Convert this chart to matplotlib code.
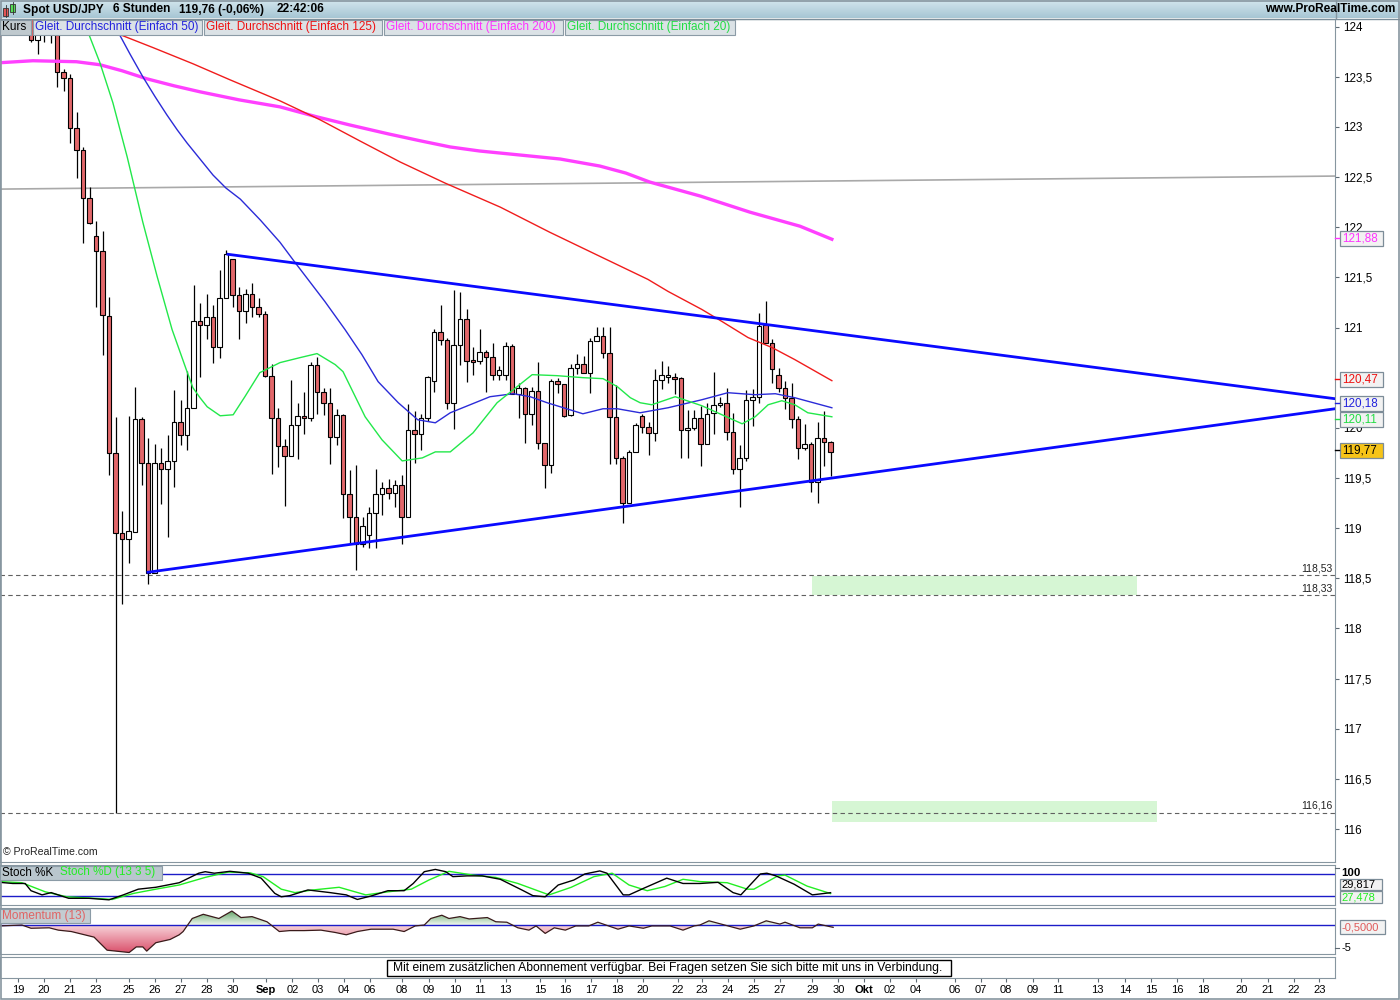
import numpy as np
import matplotlib.pyplot as plt
from matplotlib.patches import Rectangle
from matplotlib.path import Path
from matplotlib.colors import LinearSegmentedColormap

plt.rcParams['font.family'] = ['Liberation Sans', 'DejaVu Sans']

# USD/JPY 6h candles, bar 0 = first bar on screen (19 Aug)
opens = [124.20, 123.87, 124.15, 124.25, 124.20, 123.55, 123.49, 122.99, 122.77, 122.29,
         121.91, 121.76, 121.11, 119.75, 118.95, 118.89, 118.96, 120.09, 119.65, 118.55,
         119.65, 119.59, 119.67, 120.06, 119.93, 120.20, 121.06, 121.03, 121.10, 120.81,
         121.29, 121.68, 121.32, 121.16, 121.33, 121.20, 121.13, 120.52, 120.10, 119.82,
         119.72, 120.03, 120.12, 120.10, 120.63, 120.36, 120.25, 119.91, 120.13, 119.34,
         119.11, 118.84, 118.93, 119.15, 119.34, 119.40, 119.35, 119.43, 119.11, 119.98,
         119.94, 120.10, 120.47, 120.96, 120.88, 120.25, 120.83, 121.08, 120.67, 120.67,
         120.76, 120.71, 120.53, 120.53, 120.82, 120.34, 120.40, 120.14, 120.37, 119.85,
         119.63, 120.47, 120.44, 120.13, 120.60, 120.64, 120.55, 120.87, 120.92, 120.75,
         120.11, 119.70, 119.25, 119.76, 120.12, 120.01, 119.95, 120.48, 120.51, 120.51,
         120.50, 119.98, 120.00, 120.10, 119.84, 120.15, 120.23, 120.25, 119.96, 119.59,
         119.70, 120.28, 120.31, 121.03, 120.85, 120.53, 120.40, 120.30, 120.09, 119.80,
         119.84, 119.46, 119.90, 119.86]
highs = [124.30, 124.10, 124.30, 124.35, 124.30, 123.58, 123.53, 123.15, 122.80, 122.40,
         122.06, 121.96, 121.30, 120.11, 119.17, 120.12, 120.41, 120.11, 119.90, 119.84,
         119.80, 119.93, 120.38, 120.28, 120.57, 121.42, 121.24, 121.33, 121.22, 121.57,
         121.77, 121.68, 121.40, 121.38, 121.44, 121.29, 121.16, 120.64, 120.20, 119.89,
         120.48, 120.25, 120.36, 120.66, 120.71, 120.40, 120.40, 120.19, 120.14, 119.58,
         119.63, 119.11, 119.21, 119.59, 119.46, 119.49, 119.48, 119.53, 120.24, 120.17,
         120.14, 120.52, 120.99, 121.22, 120.90, 121.37, 121.35, 121.18, 120.81, 120.99,
         120.78, 120.85, 120.62, 120.86, 120.84, 120.45, 120.41, 120.41, 120.66, 119.85,
         120.49, 120.50, 120.44, 120.64, 120.74, 120.72, 120.90, 121.01, 121.01, 121.01,
         120.43, 119.72, 119.78, 120.05, 120.14, 120.06, 120.59, 120.67, 120.62, 120.55,
         120.51, 120.18, 120.18, 120.22, 120.25, 120.56, 120.31, 120.40, 120.15, 119.83,
         120.38, 120.39, 121.14, 121.26, 120.89, 120.60, 120.47, 120.45, 120.12, 120.04,
         119.86, 120.06, 120.17, 119.87]
lows = [123.85, 123.73, 123.85, 123.84, 123.40, 123.36, 122.84, 122.49, 121.84, 122.03,
        121.20, 120.73, 119.53, 116.16, 118.24, 118.65, 118.96, 119.43, 118.44, 118.55,
        119.24, 118.91, 119.41, 119.83, 119.78, 120.20, 120.51, 120.89, 120.65, 120.70,
        121.29, 121.20, 120.89, 121.05, 121.10, 121.10, 120.51, 119.54, 119.61, 119.22,
        119.72, 119.69, 119.94, 120.07, 120.14, 120.13, 119.64, 119.83, 119.10, 118.84,
        118.58, 118.81, 118.80, 118.80, 119.13, 119.29, 119.21, 118.84, 119.11, 119.65,
        119.78, 120.07, 120.36, 120.83, 120.19, 119.99, 120.63, 120.46, 120.53, 120.64,
        120.36, 120.48, 120.48, 120.48, 120.36, 120.10, 119.85, 120.03, 119.79, 119.40,
        119.55, 120.35, 120.11, 120.12, 120.54, 120.55, 120.35, 120.87, 120.70, 119.64,
        119.64, 119.05, 119.25, 119.76, 119.95, 119.73, 119.87, 120.39, 120.45, 120.34,
        119.70, 119.70, 119.98, 119.62, 119.84, 119.94, 120.21, 119.88, 119.54, 119.21,
        119.67, 120.02, 120.25, 120.99, 120.45, 120.36, 120.19, 120.00, 119.69, 119.78,
        119.36, 119.25, 119.62, 119.52]
closes = [123.87, 123.93, 124.20, 124.15, 123.55, 123.49, 122.99, 122.77, 122.29, 122.04,
          121.76, 121.12, 119.75, 118.95, 118.89, 118.97, 120.09, 119.65, 118.55, 119.65,
          119.59, 119.67, 120.06, 119.93, 120.20, 121.06, 121.03, 121.10, 120.81, 121.29,
          121.73, 121.32, 121.16, 121.33, 121.20, 121.13, 120.52, 120.10, 119.82, 119.72,
          120.03, 120.12, 120.10, 120.63, 120.36, 120.25, 119.91, 120.13, 119.34, 119.11,
          118.84, 119.02, 119.15, 119.34, 119.40, 119.35, 119.43, 119.11, 119.98, 119.94,
          120.10, 120.51, 120.96, 120.88, 120.25, 120.83, 121.08, 120.67, 120.66, 120.76,
          120.71, 120.53, 120.58, 120.82, 120.34, 120.40, 120.14, 120.37, 119.85, 119.63,
          120.47, 120.44, 120.12, 120.60, 120.64, 120.55, 120.87, 120.92, 120.75, 120.11,
          119.70, 119.25, 119.76, 120.03, 120.01, 119.95, 120.48, 120.53, 120.52, 120.49,
          119.98, 120.00, 120.10, 119.84, 120.14, 120.23, 120.25, 119.96, 119.59, 119.70,
          120.28, 120.31, 121.02, 120.85, 120.59, 120.40, 120.30, 120.09, 119.80, 119.84,
          119.46, 119.90, 119.86, 119.76]

# moving averages (bar position, price)
ma20_x = [-4.8, 5, 7.9, 8.8, 10.6, 12.6, 14.8, 17.2, 19.4, 21.7, 24, 24.9, 26, 27.1, 29.1, 31.1,
          32.9, 35.2, 38.3, 41.4, 44, 46.8, 48, 51.4, 54, 57.1, 60.2, 62.2, 64.5, 68, 71.7, 74.2,
          77.1, 80.9, 84.9, 88, 90.2, 92.2, 93.7, 95.5, 99.1, 103.2, 106.3, 109.4, 111.4, 113.4,
          115.5, 117.5, 119.5, 123.2]
ma20_v = [125.5, 124.6, 124.08, 123.94, 123.64, 123.24, 122.70, 122.05, 121.51, 120.98,
          120.56, 120.40, 120.30, 120.21, 120.12, 120.13, 120.31, 120.55, 120.65, 120.70,
          120.74, 120.63, 120.56, 120.11, 119.88, 119.67, 119.70, 119.76, 119.76, 119.95,
          120.25, 120.38, 120.53, 120.52, 120.50, 120.49, 120.41, 120.30, 120.25, 120.23,
          120.31, 120.22, 120.13, 120.04, 120.11, 120.23, 120.27, 120.23, 120.15, 120.11]
ma50_x = [-4.8, 5, 12.3, 13.2, 15.2, 17.2, 19.1, 20.9, 22.5, 24, 26, 28, 30, 32.2, 35.3, 38.3,
          40.6, 45.2, 48.3, 50.9, 53.4, 56.5, 59.5, 62.2, 64.5, 70.6, 74.2, 76.8, 79.4, 82.9,
          84.9, 88, 90.2, 93.7, 98, 103.2, 107.2, 111.4, 114.5, 117.5, 123.2]
ma50_v = [125.6, 124.8, 124.08, 123.97, 123.73, 123.50, 123.30, 123.12, 122.97, 122.84,
          122.68, 122.52, 122.39, 122.28, 122.07, 121.85, 121.65, 121.26, 120.98, 120.73,
          120.46, 120.25, 120.08, 120.05, 120.15, 120.31, 120.34, 120.31, 120.25, 120.18,
          120.14, 120.19, 120.19, 120.15, 120.20, 120.28, 120.35, 120.33, 120.34, 120.30,
          120.20]
ma125_x = [-4.8, -2.5, 4, 10, 13.7, 18.8, 24.9, 30.6, 38.3, 44.5, 50.6, 56.8, 63.7, 72.2, 79.8,
           87.5, 94.9, 98, 103.2, 106.3, 110.3, 114, 117.5, 123.2]
ma125_v = [123.90, 124.08, 124.25, 124.15, 123.92, 123.79, 123.63, 123.47, 123.26, 123.07,
           122.86, 122.65, 122.44, 122.20, 121.95, 121.71, 121.48, 121.36, 121.18, 121.06,
           120.90, 120.80, 120.68, 120.47]
ma200_x = [-4.8, 0.3, 7, 10.6, 14, 17.8, 22, 26, 32, 38.3, 44, 49, 55, 60, 64.5, 69, 75.2,
           81.4, 87.5, 91.5, 95.2, 103, 110.6, 118.3, 123.2]
ma200_v = [123.64, 123.66, 123.65, 123.62, 123.56, 123.48, 123.41, 123.35, 123.27, 123.20,
           123.10, 123.02, 122.93, 122.86, 122.80, 122.76, 122.72, 122.68, 122.61, 122.54,
           122.45, 122.31, 122.15, 122.01, 121.88]

# trend lines drawn on the chart
tri_up_x, tri_up_y = [30.3, 200.6], [121.73, 120.29]
tri_lo_x, tri_lo_y = [18.0, 200.6], [118.56, 120.19]
grey_x, grey_y = [-4.8, 200.6], [122.38, 122.51]
levels = [118.53, 118.33, 116.16]
zones = [(120.2, 170.2, 118.33, 118.52), (123.2, 173.2, 116.07, 116.28)]

# Stochastic (13 3 5)
k_x = [-4.8, -2.8, -0.9, 0, 1.7, 3.1, 5.8, 8.9, 12, 14.2, 16.5, 19.2, 22.8, 25.8, 26.8, 28.2,
       30.6, 33.4, 35.4, 37.5, 38.5, 39.8, 42.6, 46, 48.5, 50.2, 52.3, 54.9, 57.4, 58.8, 60.5,
       62.2, 63.8, 64.9, 67.1, 69.4, 72.2, 75.5, 77.2, 79.1, 81.1, 83.5, 85.2, 87.5, 88.6, 91.1,
       92, 94.2, 97.8, 100.3, 102.9, 105.7, 108, 109.2, 112.2, 113.2, 114.6, 117.4, 120.2, 123]
k_v = [57, 54, 54, 35, 24, 30, 15, 15, 11, 24, 39, 44, 56, 81, 85, 81, 86, 81, 68, 28,
       19, 22, 37, 30, 24, 12, 21, 35, 35, 54, 85, 91, 85, 72, 74, 74, 65, 37, 22, 19,
       50, 63, 79, 87, 81, 24, 24, 41, 68, 54, 54, 57, 30, 24, 79, 81, 74, 52, 24, 29.8]
d_x = [-4.8, -1.4, 2.2, 5.5, 9.7, 12.5, 15.8, 19.2, 22.8, 26.8, 30.3, 33.7, 35.7, 38.5, 40.6,
       43.4, 47.4, 51.5, 54.9, 58.5, 61.2, 64.3, 68, 71.5, 74.9, 79.7, 83.1, 86.6, 89.4, 92,
       94.8, 97.5, 100.3, 102.9, 107.1, 110.2, 111.2, 114.9, 116, 119.4, 123]
d_v = [59, 56, 32, 19, 15, 12, 28, 39, 50, 70, 84, 82, 72, 39, 30, 37, 44, 24, 32, 39,
       63, 86, 76, 70, 54, 24, 44, 72, 81, 50, 35, 46, 65, 59, 56, 39, 39, 74, 76, 47, 27.5]

# Momentum (13)
mom_x = [-4.8, -1.4, 0, 2.8, 4.2, 6.2, 9.7, 11.7, 15.1, 16.2, 17.2, 17.8, 19.2, 21.4, 22.8,
         23.4, 24.8, 26.5, 28.9, 30.9, 32.3, 34, 36.3, 38.2, 39.8, 42, 44.6, 46.8, 48.5, 50.2,
         52.3, 55.7, 57.4, 59.1, 60.5, 61.5, 63.2, 64.3, 66, 67.4, 70.2, 71.5, 73.2, 74.9, 76.6,
         77.7, 79.1, 80.5, 82.2, 83.8, 85.8, 87.2, 90.3, 92, 94.2, 95.5, 98.3, 100.3, 102, 102.9,
         104.3, 109.1, 111.2, 113.1, 115.2, 116, 118.3, 120.2, 121.1, 123.4]
mom_v = [-0.2, 0, -0.7, -0.6, -1.1, -1.4, -2.6, -5.4, -5.9, -4.7, -4.7, -5.6, -3.8, -3.1, -2.1,
         -1.4, 1.4, 2.3, 1.4, 3.0, 1.6, 1.8, 0.7, -1.4, -1.2, -1.2, -1.1, -1.6, -2.1, -1.4,
         -0.9, -0.9, -1.4, -0.2, 0, 1.4, 2.1, 1.4, 1.8, 1.3, 1.6, 0.7, 0.6, -0.6, -1.1,
         -0.2, -1.8, -0.6, -1.1, -0.2, -0.2, 0.6, -0.9, -0.2, -0.7, -0.2, -0.2, -1.1, -0.2, 0,
         0.9, -0.9, -0.2, 0.9, 0.2, 0.6, -0.6, -0.6, 0.2, -0.5]

# date axis (bar position of each label)
date_pos = [-2, 2, 6, 10, 15, 19, 23, 27, 31, 36.2, 40.2, 44.1, 48.1, 52.1, 57, 61.2, 65.2,
            69.1, 73, 78.3, 82.2, 86.2, 90.2, 94.1, 99.5, 103.2, 107.2, 111.2, 115.2, 120.2,
            124.2, 128.2, 132.1, 136.1, 142.1, 146.1, 150, 154.1, 158, 164.1, 168.3, 172.3,
            176.3, 180.3, 186.2, 190.3, 194.3, 198.2]
date_txt = ['19', '20', '21', '23', '25', '26', '27', '28', '30', 'Sep', '02', '03', '04', '06',
            '08', '09', '10', '11', '13', '15', '16', '17', '18', '20', '22', '23', '24', '25',
            '27', '29', '30', 'Okt', '02', '04', '06', '07', '08', '09', '11', '13', '14', '15',
            '16', '18', '20', '21', '22', '23']

W, H = 1400.0, 1000.0
XMIN, XMAX = -4.77, 200.6
FRAME = '#8796a0'


def rect(x0, y0, x1, y1):
    return [x0 / W, 1 - y1 / H, (x1 - x0) / W, (y1 - y0) / H]


def de(v):
    s = ('%g' % v) if v == int(v) else ('%.1f' % v)
    return s.replace('.', ',')


fig = plt.figure(figsize=(14, 10), dpi=100)
ax = fig.add_axes(rect(0, 19, 1335, 862))
ax_st = fig.add_axes(rect(0, 865, 1335, 905))
ax_mo = fig.add_axes(rect(0, 908, 1335, 954))
ax_tx = fig.add_axes(rect(0, 957, 1335, 978))

for a in (ax, ax_st, ax_mo, ax_tx):
    a.set_xlim(XMIN, XMAX)
    for s in a.spines.values():
        s.set_color(FRAME)
    a.set_xticks([])
    a.set_yticks([])

# ---- price panel ----
o = np.array(opens); h = np.array(highs); l = np.array(lows); c = np.array(closes)
xi = np.arange(len(o))
up = c >= o
ax.vlines(xi, l, h, color='black', lw=0.9, zorder=3)
body = np.maximum(np.abs(c - o), 0.012)
ax.bar(xi, body, bottom=np.minimum(o, c), width=0.72,
       color=np.where(up, 'white', '#e2676a'), edgecolor='black', lw=0.8, zorder=4)

for (x0, x1, y0, y1) in zones:
    ax.add_patch(Rectangle((x0, y0), x1 - x0, y1 - y0, fc='#d6f6d4', ec='none', zorder=1))
for lv in levels:
    ax.axhline(lv, color='#606060', lw=0.8, ls=(0, (4, 3)), zorder=2)
    ax.text(0.998, lv + 0.02, ('%.2f' % lv).replace('.', ','),
            transform=ax.get_yaxis_transform(), ha='right', va='bottom', fontsize=7.5,
            color='#222222')
ax.plot(grey_x, grey_y, color='#a9a9a9', lw=1.2, zorder=2)

ax.plot(ma200_x, ma200_v, color='#ff40ff', lw=2.4, zorder=5)
ax.plot(ma125_x, ma125_v, color='#f01c1c', lw=1.0, zorder=5)
ax.plot(ma50_x, ma50_v, color='#2b2bd8', lw=1.0, zorder=5)
ax.plot(ma20_x, ma20_v, color='#22e84a', lw=1.0, zorder=5)
ax.plot(tri_up_x, tri_up_y, color='#0a0aff', lw=2.0, zorder=6)
ax.plot(tri_lo_x, tri_lo_y, color='#0a0aff', lw=2.0, zorder=6)

ax.set_ylim(115.671, 124.076)
ax.yaxis.tick_right()
# 120,5 sits under the 120,47 value box, so it is not drawn
yt = [v for v in np.arange(116, 124.01, 0.5) if v != 120.5]
ax.set_yticks(yt)
ax.set_yticklabels([de(v) for v in yt])
ax.tick_params(axis='y', direction='out', length=3, color='#5d6a73', labelsize=8.4, pad=3)
ax.text(0.002, 0.006, '© ProRealTime.com', transform=ax.transAxes, fontsize=7.6,
        ha='left', va='bottom', color='#222222')

# ---- stochastic ----
ax_st.set_ylim(-2.6, 102.6)
ax_st.axhline(80, color='#1c1cc8', lw=1.0)
ax_st.axhline(20, color='#1c1cc8', lw=1.0)
ax_st.plot(d_x, d_v, color='#22ee22', lw=1.0)
ax_st.plot(k_x, k_v, color='black', lw=1.0)

# ---- momentum ----
ax_mo.set_ylim(-6.22, 3.65)
mx = np.array(mom_x); mv = np.array(mom_v)


def grad_fill(a, where, c0, c1, y0, y1):
    coll = a.fill_between(mx, mv, 0, where=where, interpolate=True, fc='none', ec='none')
    paths = coll.get_paths()
    if not paths:
        return
    clip = Path.make_compound_path(*paths)
    cm = LinearSegmentedColormap.from_list('g', [c0, c1])
    im = a.imshow(np.linspace(0, 1, 256).reshape(-1, 1), extent=(XMIN, XMAX, y0, y1),
                  origin='lower', aspect='auto', cmap=cm, zorder=1)
    im.set_clip_path(clip, a.transData)


grad_fill(ax_mo, mv <= 0, '#d94a66', '#f7d3d9', -6.22, 0)
grad_fill(ax_mo, mv >= 0, '#f0f8f0', '#3f8f45', 0, 3.65)
ax_mo.axhline(0, color='#1c1cc8', lw=1.0, zorder=2)
ax_mo.plot(mx, mv, color='#3a1a1a', lw=0.9, zorder=3)
ax_mo.set_xlim(XMIN, XMAX)
ax_mo.set_ylim(-6.22, 3.65)

# ---- date axis ----
ax_tx.set_ylim(0, 1)
ax_tx.set_xticks(date_pos)
ax_tx.set_xticklabels(date_txt)
ax_tx.tick_params(axis='x', direction='out', length=3, color='#5d6a73', labelsize=8, pad=2)
for t in ax_tx.get_xticklabels():
    if t.get_text() in ('Sep', 'Okt'):
        t.set_fontweight('bold')

# ---- overlay: header, legend boxes, value boxes ----
ov = fig.add_axes([0, 0, 1, 1], zorder=10)
hdr = LinearSegmentedColormap.from_list('hdr', ['#d2e5ed', '#a7c6d4'])
ov.imshow(np.linspace(0, 1, 32).reshape(-1, 1), extent=(0, W, 18, 0), cmap=hdr, aspect='auto')
ov.set_xlim(0, W)
ov.set_ylim(H, 0)
ov.axis('off')
ov.plot([0, W], [18.5, 18.5], color='#7d8f9b', lw=1)
ov.add_patch(Rectangle((0.5, 0.5), W - 1.5, H - 1.5, fc='none', ec=FRAME, lw=1.2))
ov.plot([1335.5, 1335.5], [0, 18], color=FRAME, lw=1)

# header icon
ov.add_patch(Rectangle((3, 8), 5, 8, fc='#e25555', ec='#333333', lw=0.6))
ov.plot([5.5, 5.5], [5, 17], color='#333333', lw=0.6)
ov.add_patch(Rectangle((10, 4), 5, 8, fc='#55dd55', ec='#333333', lw=0.6))
ov.plot([12.5, 12.5], [2, 14], color='#333333', lw=0.6)

for x, s in [(23, 'Spot USD/JPY'), (113, '6 Stunden'), (179, '119,76 (-0,06%)'),
             (277, '22:42:06')]:
    ov.text(x, 9.5, s, fontsize=8.6, fontweight='bold', ha='left', va='center')
ov.text(1395, 9.5, 'www.ProRealTime.com', fontsize=8.6, fontweight='bold', ha='right',
        va='center')

legend = [(0, 31, 'Kurs', 'black', '#bfc9ce'),
          (33, 202, 'Gleit. Durchschnitt (Einfach 50)', '#2222dd', '#dbe2e6'),
          (204, 382, 'Gleit. Durchschnitt (Einfach 125)', '#ee1111', '#dbe2e6'),
          (384, 563, 'Gleit. Durchschnitt (Einfach 200)', '#ff33ff', '#dbe2e6'),
          (565, 735, 'Gleit. Durchschnitt (Einfach 20)', '#22dd44', '#dbe2e6')]
for x0, x1, s, tc, fc in legend:
    ov.add_patch(Rectangle((x0, 19.5), x1 - x0, 15, fc=fc, ec='#8b9ba6', lw=0.8))
    ov.text(x0 + 2, 27.3, s, color=tc, fontsize=8.5, ha='left', va='center')

# price value boxes on the right axis
vboxes = [('121,88', 238, '#ff33ff', '#f2f2f2'), ('120,47', 379, '#ee1111', '#f2f2f2'),
          ('120,18', 403, '#2222dd', '#f2f2f2'), ('120,11', 419, '#22dd44', '#f2f2f2'),
          ('119,77', 450, 'black', '#f6c418')]
for s, yc, tc, fc in vboxes:
    ov.plot([1335, 1339], [yc, yc], color=tc, lw=1)
    ov.add_patch(Rectangle((1339.5, yc - 7.5), 43, 15, fc=fc, ec='#7c8c98', lw=0.9))
    ov.text(1342, yc + 0.5, s, color=tc, fontsize=8.4, ha='left', va='center')

# indicator panel labels
ov.add_patch(Rectangle((0, 865.5), 162, 14, fc='#b9c6cd', ec='#8b9ba6', lw=0.8))
ov.text(2, 872.5, 'Stoch %K', fontsize=8.4, ha='left', va='center', color='black')
ov.text(60, 872.5, 'Stoch %D (13 3 5)', fontsize=8.4, ha='left', va='center', color='#22ee22')
ov.add_patch(Rectangle((0, 908.5), 90, 14, fc='#c3cdd2', ec='#8b9ba6', lw=0.8))
ov.text(2, 915.5, 'Momentum (13)', fontsize=8.5, ha='left', va='center', color='#e06464')

ov.text(1341, 872.5, '100', fontsize=8.2, fontweight='bold', ha='left', va='center')
ov.plot([1335, 1339], [868, 868], color='#5d6a73', lw=0.8)
ov.add_patch(Rectangle((1339.5, 879), 42, 11, fc='#f2f2f2', ec='#7c8c98', lw=0.9))
ov.text(1341, 884.7, '29,817', fontsize=8, ha='left', va='center', color='black')
ov.add_patch(Rectangle((1339.5, 891), 42, 12, fc='#f2f2f2', ec='#7c8c98', lw=0.9))
ov.text(1341, 897.2, '27,478', fontsize=8, ha='left', va='center', color='#22ee22')
ov.add_patch(Rectangle((1339.5, 920), 45, 14, fc='#f2f2f2', ec='#7c8c98', lw=0.9))
ov.text(1341, 927.5, '-0,5000', fontsize=8, ha='left', va='center', color='#e05a5a')
ov.plot([1335, 1339], [948, 948], color='#5d6a73', lw=0.8)
ov.text(1341, 948, '-5', fontsize=8, ha='left', va='center')

# notice box
ov.add_patch(Rectangle((386.5, 959.5), 564, 16, fc='white', ec='black', lw=1))
ov.text(668, 967.8, 'Mit einem zusätzlichen Abonnement verfügbar. Bei Fragen setzen Sie sich '
        'bitte mit uns in Verbindung.', fontsize=8.7, ha='center', va='center')

fig.savefig('out.png', dpi=100)
